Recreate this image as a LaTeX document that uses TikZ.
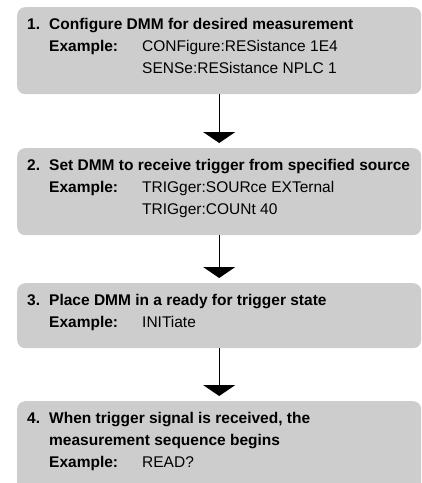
\documentclass[tikz,border=0pt]{standalone}
\usepackage{fontspec}
\setmainfont{Liberation Sans}
\usepackage{array}
\usetikzlibrary{arrows.meta}
\definecolor{boxgray}{RGB}{205,205,205}
\newcolumntype{Q}{@{}>{\bfseries}p{22pt}@{}>{\bfseries}p{93pt}@{}p{269pt}@{}}
\newcommand{\steptitle}[1]{\multicolumn{2}{@{}l@{}}{\makebox[362pt][l]{\bfseries #1}}}

\begin{document}
\begin{tikzpicture}[x=1pt, y=1pt,
  stepbox/.style={fill=boxgray, rounded corners=8pt, inner xsep=10pt, inner ysep=6.6pt,
    anchor=north west, text depth=#1, font=\fontsize{15.5}{22}\selectfont},
  flow/.style={-{Triangle[width=32pt,length=11pt]}, line width=1.3pt, shorten >=5pt}]
\useasboundingbox (0,0) rectangle (422,-483);
\node[stepbox=58.4pt] (configure) at (17,-7) {\begin{tabular}[t]{Q}
1. & \steptitle{Configure DMM for desired measurement}\\
 & Example: & CONFigure:RESistance 1E4\\
 & & SENSe:RESistance NPLC 1
\end{tabular}};
\node[stepbox=58.4pt] (source) at (17,-148) {\begin{tabular}[t]{Q}
2. & \steptitle{Set DMM to receive trigger from specified source}\\
 & Example: & TRIGger:SOURce EXTernal\\
 & & TRIGger:COUNt 40
\end{tabular}};
\node[stepbox=36.4pt] (initiate) at (17,-283) {\begin{tabular}[t]{Q}
3. & \steptitle{Place DMM in a ready for trigger state}\\
 & Example: & INITiate
\end{tabular}};
\node[stepbox=80.4pt] (read) at (17,-401) {\begin{tabular}[t]{Q}
4. & \steptitle{When trigger signal is received, the}\\
 & \steptitle{measurement sequence begins}\\
 & Example: & READ?\\
 & &
\end{tabular}};
\draw[flow] (configure.south) -- (source.north);
\draw[flow] (source.south) -- (initiate.north);
\draw[flow] (initiate.south) -- (read.north);
\end{tikzpicture}
\end{document}
